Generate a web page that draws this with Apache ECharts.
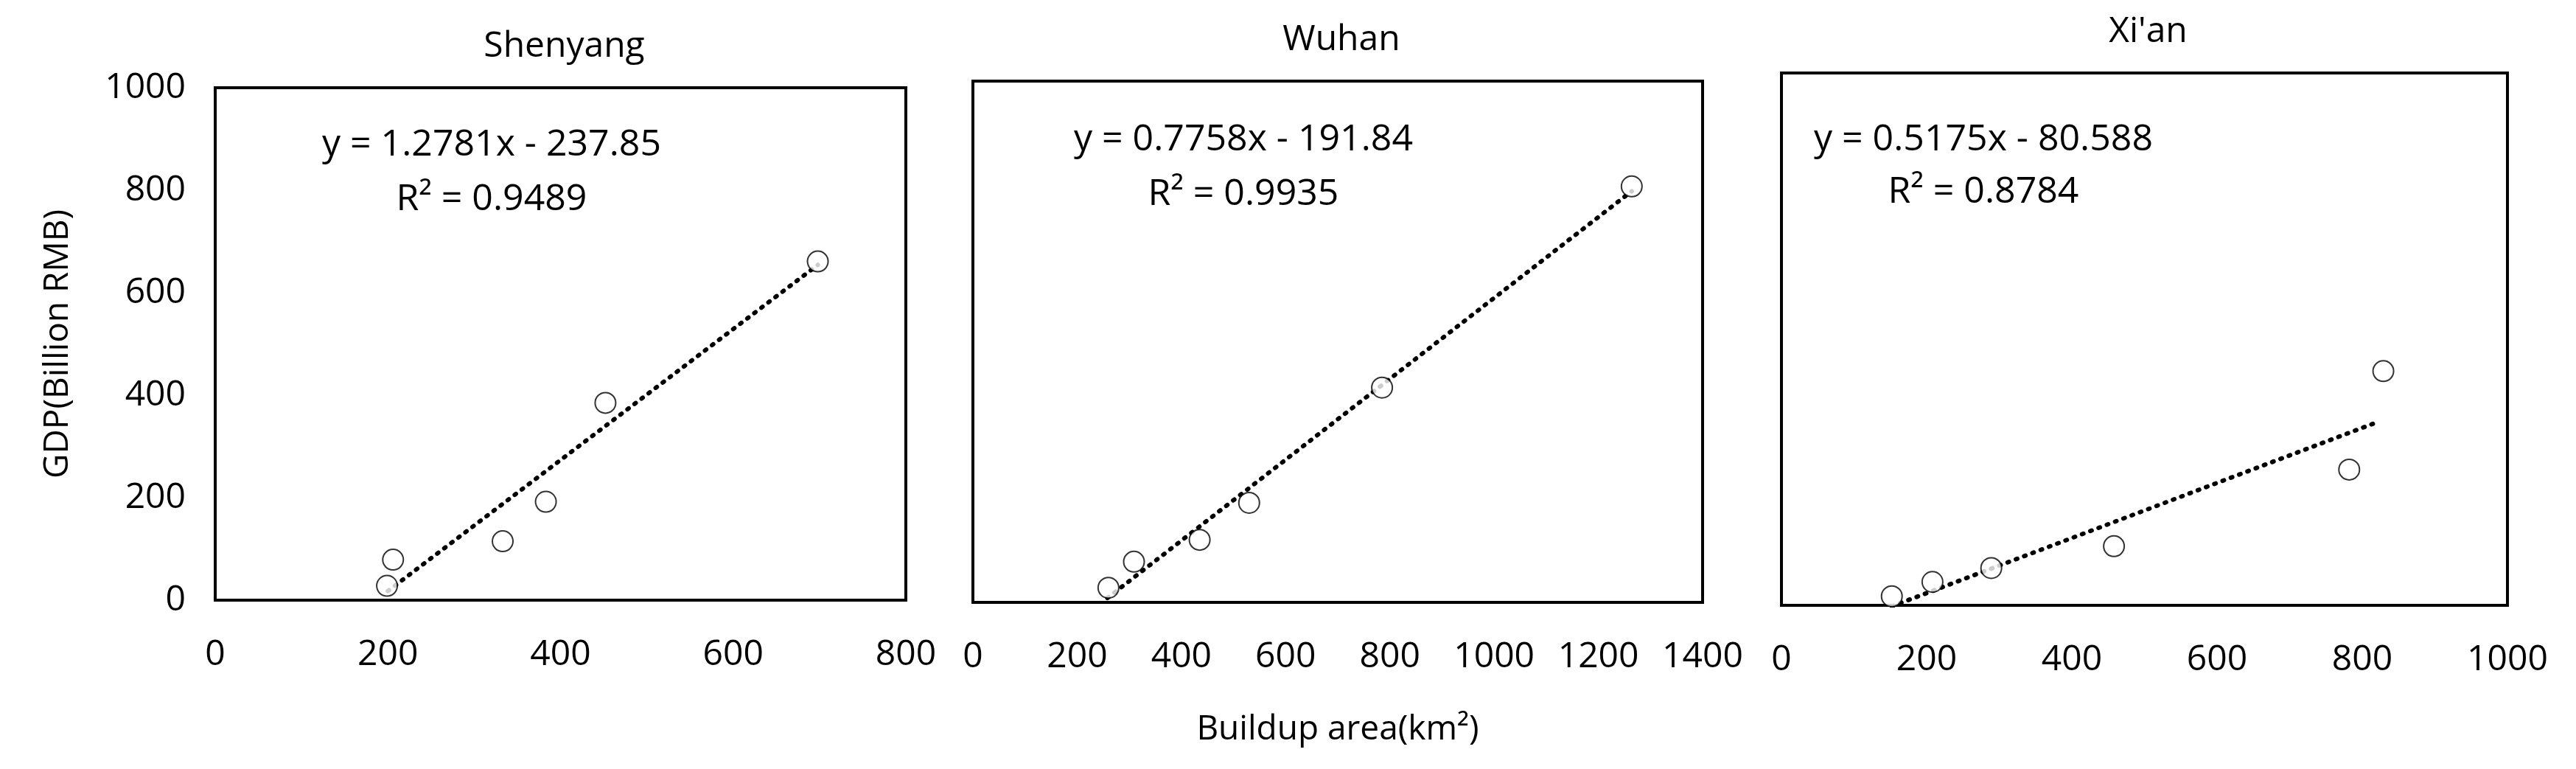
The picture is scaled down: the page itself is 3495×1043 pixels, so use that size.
<!DOCTYPE html>
<html>
<head>
<meta charset="utf-8">
<script src="https://cdn.jsdelivr.net/npm/echarts@6/dist/echarts.min.js"></script>
<style>
  html, body { margin: 0; padding: 0; background: #fff; }
  #chart { width: 3495px; height: 1043px; }
</style>
</head>
<body>
<div id="chart"></div>
<script>
// panels
const cities = ['Shenyang', 'Wuhan', "Xi'an"];

// buildup area (km2) and GDP (billion RMB)
const shenyangArea = [199, 206, 333, 383, 452, 698];
const shenyangGdp = [28, 79, 115, 192, 385, 661];
const wuhanArea = [260, 309, 435, 530, 785, 1264];
const wuhanGdp = [28, 78, 120, 191, 412, 798];
const xianArea = [152, 208, 289, 458, 782, 829];
const xianGdp = [17, 44, 70, 111, 255, 440];

// fitted trend lines: slope, intercept, x range
const slopes = [1.2781, 0.7758, 0.5175];
const intercepts = [-237.85, -191.84, -80.588];
const trendRanges = [[200, 698], [258, 1264], [152, 819]];
const equations = ['y = 1.2781x - 237.85', 'y = 0.7758x - 191.84', 'y = 0.5175x - 80.588'];
const r2Labels = ['R² = 0.9489', 'R² = 0.9935', 'R² = 0.8784'];

// axis ranges
const xMax = [800, 1400, 1000];
const xInterval = 200;
const yMax = 1000;
const yInterval = 200;

const areas = [shenyangArea, wuhanArea, xianArea];
const gdps = [shenyangGdp, wuhanGdp, xianGdp];

const FONT = 'Open Sans';
const grids = [
    { left: 292, width: 937, top: 119, height: 695 },
    { left: 1320, width: 990, top: 110, height: 707 },
    { left: 2417, width: 985, top: 99, height: 722 }
];
const eqPos = [[667, 197, 271], [1687, 190, 264], [2691, 190, 261]];

const chart = echarts.init(document.getElementById('chart'));

const option = {
    backgroundColor: '#fff',
    animation: false,
    title: cities.map((c, i) => ({
        text: c,
        left: grids[i].left + grids[i].width / 2,
        top: grids[i].top - 85,
        textAlign: 'center',
        textStyle: { fontFamily: FONT, fontSize: 48, fontWeight: 'normal', color: '#000' }
    })),
    grid: grids.map(g => Object.assign({ show: true, borderColor: '#000', borderWidth: 4, backgroundColor: 'transparent' }, g)),
    xAxis: cities.map((c, i) => ({
        type: 'value',
        gridIndex: i,
        min: 0,
        max: xMax[i],
        interval: xInterval,
        name: i === 1 ? 'Buildup area(km²)' : '',
        nameLocation: 'middle',
        nameGap: 150,
        nameTextStyle: { fontFamily: FONT, fontSize: 46, color: '#000' },
        axisLine: { show: false },
        axisTick: { show: false },
        splitLine: { show: false },
        axisLabel: { margin: 50, fontFamily: FONT, fontSize: 48, color: '#000', formatter: v => String(v) }
    })),
    yAxis: cities.map((c, i) => ({
        type: 'value',
        gridIndex: i,
        min: 0,
        max: yMax,
        interval: yInterval,
        name: i === 0 ? 'GDP(Billion RMB)' : '',
        nameLocation: 'middle',
        nameGap: 190,
        nameTextStyle: { fontFamily: FONT, fontSize: 46, color: '#000' },
        axisLine: { show: false },
        axisTick: { show: false },
        splitLine: { show: false },
        axisLabel: { show: i === 0, margin: 40, fontFamily: FONT, fontSize: 48, color: '#000', formatter: v => String(v) }
    })),
    series: [].concat(
        cities.map((c, i) => ({
            type: 'scatter',
            xAxisIndex: i,
            yAxisIndex: i,
            symbol: 'emptyCircle',
            symbolSize: 28,
            itemStyle: { color: '#000', borderWidth: 4 },
            data: areas[i].map((x, k) => [x, gdps[i][k]]),
            z: 5
        })),
        cities.map((c, i) => ({
            type: 'line',
            xAxisIndex: i,
            yAxisIndex: i,
            symbol: 'none',
            lineStyle: { color: '#000', width: 6, type: [2, 10], cap: 'round' },
            data: trendRanges[i].map(x => [x, slopes[i] * x + intercepts[i]]),
            z: 2
        }))
    ),
    graphic: [].concat(
        cities.map((c, i) => ({
            type: 'text',
            x: eqPos[i][0],
            y: eqPos[i][1],
            style: { text: equations[i], font: '50px "Open Sans"', fill: '#000', align: 'center', verticalAlign: 'middle' }
        })),
        cities.map((c, i) => ({
            type: 'text',
            x: eqPos[i][0],
            y: eqPos[i][2],
            style: { text: r2Labels[i], font: '50px "Open Sans"', fill: '#000', align: 'center', verticalAlign: 'middle' }
        }))
    )
};

chart.setOption(option);
</script>
</body>
</html>
